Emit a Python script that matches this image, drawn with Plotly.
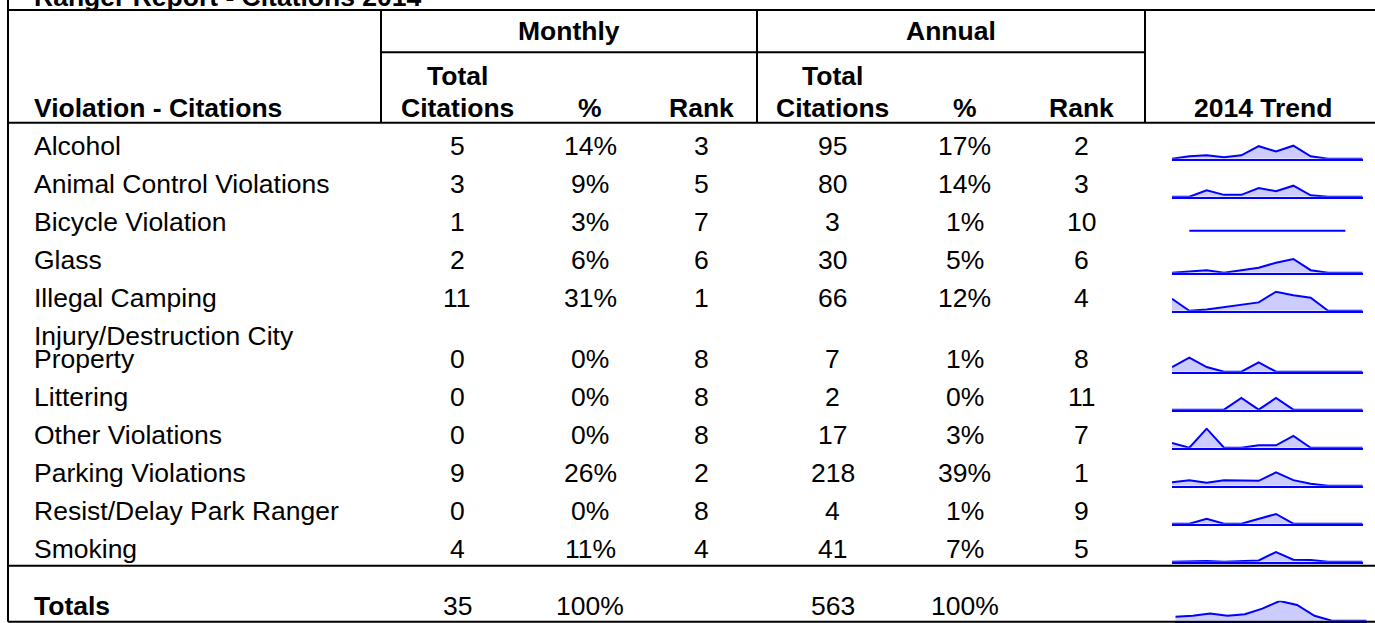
import plotly.graph_objects as go

# ---------------- data ----------------
title = "Ranger Report - Citations 2014"
categories = ["Alcohol", "Animal Control Violations", "Bicycle Violation", "Glass",
              "Illegal Camping", "Injury/Destruction City Property", "Littering",
              "Other Violations", "Parking Violations", "Resist/Delay Park Ranger", "Smoking"]
monthly_total = [5, 3, 1, 2, 11, 0, 0, 0, 9, 0, 4]
monthly_pct = ["14%", "9%", "3%", "6%", "31%", "0%", "0%", "0%", "26%", "0%", "11%"]
monthly_rank = [3, 5, 7, 6, 1, 8, 8, 8, 2, 8, 4]
annual_total = [95, 80, 3, 30, 66, 7, 2, 17, 218, 4, 41]
annual_pct = ["17%", "14%", "1%", "5%", "12%", "1%", "0%", "3%", "39%", "1%", "7%"]
annual_rank = [2, 3, 10, 6, 4, 8, 11, 7, 1, 9, 5]
totals_label = "Totals"
totals_monthly = 35
totals_monthly_pct = "100%"
totals_annual = 563
totals_annual_pct = "100%"

months = ["Jan", "Feb", "Mar", "Apr", "May", "Jun", "Jul", "Aug", "Sep", "Oct", "Nov", "Dec"]
trend_alcohol = [0, 5, 7, 3, 7, 26, 15, 27, 5, 0, 0, 0]
trend_animal = [0, 0, 14, 4, 4, 19, 12, 24, 3, 0, 0, 0]
trend_bicycle = [None, 0, 0, 0, 0, 0, 0, 0, 0, 0, 0, None]
trend_glass = [0, 1, 2, 0, 2, 4, 8, 11, 2, 0, 0, 0]
trend_camping = [10, 0, 1, 3, 5, 7, 16, 13, 11, 0, 0, 0]
trend_injury = [1, 3, 1, 0, 0, 2, 0, 0, 0, 0, 0, 0]
trend_littering = [0, 0, 0, 0, 1, 0, 1, 0, 0, 0, 0, 0]
trend_other = [2, 0, 8, 0, 0, 1, 1, 5, 0, 0, 0, 0]
trend_parking = [15, 25, 13, 25, 24, 22, 60, 25, 9, 0, 0, 0]
trend_resist = [0, 0, 1, 0, 0, 1, 2, 0, 0, 0, 0, 0]
trend_smoking = [0, 1, 2, 0, 2, 3, 24, 5, 4, 0, 0, 0]
trend_totals = [28, 35, 50, 35, 45, 85, 139, 111, 35, 0, 0, 0]

trends = [trend_alcohol, trend_animal, trend_bicycle, trend_glass, trend_camping,
          trend_injury, trend_littering, trend_other, trend_parking, trend_resist,
          trend_smoking]

# ---------------- style / layout ----------------
W, H = 1375, 623
FONT = "Liberation Sans, Arial, Helvetica, sans-serif"
FS = 26.5
BLUE = "#0000FF"
FILL = "#CCCCFF"
spark_peak_px = [13, 11, None, 13.7, 19, 14, 11.7, 19, 13.3, 9.7, 9.7]
totals_peak_px = 19.7
SPARK_H = 20


def X(px):
    return px / W


def Y(py):
    return 1 - py / H


def wrap(label, maxc=25):
    if len(label) <= maxc:
        return [label]
    cut = label.rfind(" ", 0, maxc)
    return [label[:cut], label[cut + 1:]]


fig = go.Figure()
annotations = []
shapes = []


def ann(text, x, y, anchor="center", bold=False):
    annotations.append(dict(
        text=f"<b>{text}</b>" if bold else str(text),
        x=X(x), y=Y(y), xref="paper", yref="paper",
        xanchor=anchor, yanchor="middle", showarrow=False,
        font=dict(family=FONT, size=FS, color="black")))


def line(x0, y0, x1, y1, w=2):
    shapes.append(dict(type="line", xref="paper", yref="paper",
                       x0=X(x0), y0=Y(y0), x1=X(x1), y1=Y(y1),
                       line=dict(color="black", width=w)))


# column positions
LEFT = 32
C_MT, C_MP, C_MR = 457, 590, 701.5
C_AT, C_AP, C_AR = 832.5, 964.5, 1081.7
C_TR = 1262.5

# title & header
ann(title, LEFT, -3.3, "left", True)
ann("Monthly", 569, 31, bold=True)
ann("Annual", 951, 31, bold=True)
for cx in (C_MT, C_AT):
    ann("Total", cx, 76, bold=True)
    ann("Citations", cx, 107.5, bold=True)
for cx in (C_MP, C_AP):
    ann("%", cx, 107.5, bold=True)
for cx in (C_MR, C_AR):
    ann("Rank", cx, 107.5, bold=True)
ann("Violation - Citations", LEFT, 107.5, "left", True)
ann("2014 Trend", C_TR, 107.5, bold=True)

# grid lines
L_X, R_X = 8, 1376
line(L_X, 0, L_X, 621.7)
line(L_X, 10, R_X, 10)
line(L_X, 122.7, R_X, 122.7)
line(381, 52.3, 1145, 52.3)
for vx in (381, 757, 1145):
    line(vx, 10, vx, 122.7)
line(L_X, 565.7, R_X, 565.7)
line(L_X, 621.7, R_X, 621.7)

# rows
layout_axes = {}
baseline = 158.7
ax_i = 0


def add_spark(values, base, x0, x1, peak_px, flat=False):
    global ax_i
    ax_i += 1
    xa = "x" if ax_i == 1 else f"x{ax_i}"
    ya = "y" if ax_i == 1 else f"y{ax_i}"
    fig.add_trace(go.Scatter(
        x=months, y=values, xaxis=xa, yaxis=ya, mode="lines",
        line=dict(color=BLUE, width=2),
        fill=None if flat else "tozeroy", fillcolor=FILL,
        hoverinfo="x+y", showlegend=False))
    if flat:
        yr = [-0.25, 1]
    else:
        vmax = max(v for v in values if v is not None)
        yr = [0, vmax * SPARK_H / peak_px]
    kx = "xaxis" if ax_i == 1 else f"xaxis{ax_i}"
    ky = "yaxis" if ax_i == 1 else f"yaxis{ax_i}"
    layout_axes[kx] = dict(domain=[X(x0), X(x1)], anchor=ya, range=[0, 11],
                           showgrid=False, zeroline=False, showticklabels=False,
                           ticks="", showline=not flat, linecolor=BLUE, linewidth=2,
                           fixedrange=True)
    layout_axes[ky] = dict(domain=[Y(base), Y(base - SPARK_H)], anchor=xa, range=yr,
                           showgrid=False, zeroline=False, showticklabels=False,
                           ticks="", showline=False, fixedrange=True)


for i, cat in enumerate(categories):
    lines_ = wrap(cat)
    if i > 0:
        baseline += 38 + 23 * (len(lines_) - 1)
    cy = baseline - 12.8
    for k, t in enumerate(lines_):
        ann(t, LEFT, cy - 23 * (len(lines_) - 1 - k), "left")
    ann(monthly_total[i], C_MT, cy)
    ann(monthly_pct[i], C_MP, cy)
    ann(monthly_rank[i], C_MR, cy)
    ann(annual_total[i], C_AT, cy)
    ann(annual_pct[i], C_AP, cy)
    ann(annual_rank[i], C_AR, cy)
    add_spark(trends[i], baseline, 1172, 1362.7, spark_peak_px[i],
              flat=spark_peak_px[i] is None)

# totals row
ty = 606
ann(totals_label, LEFT, ty, "left", True)
ann(totals_monthly, C_MT, ty)
ann(totals_monthly_pct, C_MP, ty)
ann(totals_annual, C_AT, ty)
ann(totals_annual_pct, C_AP, ty)
add_spark(trend_totals, 620.7, 1175.3, 1366.7, totals_peak_px)

fig.update_layout(
    width=W, height=H, margin=dict(l=0, r=0, t=0, b=0),
    paper_bgcolor="white", plot_bgcolor="rgba(0,0,0,0)",
    showlegend=False, annotations=annotations, shapes=shapes,
    **layout_axes)

fig.write_html("out.html", config={"displayModeBar": False},
               post_script="document.body.style.margin='0';document.body.style.overflow='hidden';")
